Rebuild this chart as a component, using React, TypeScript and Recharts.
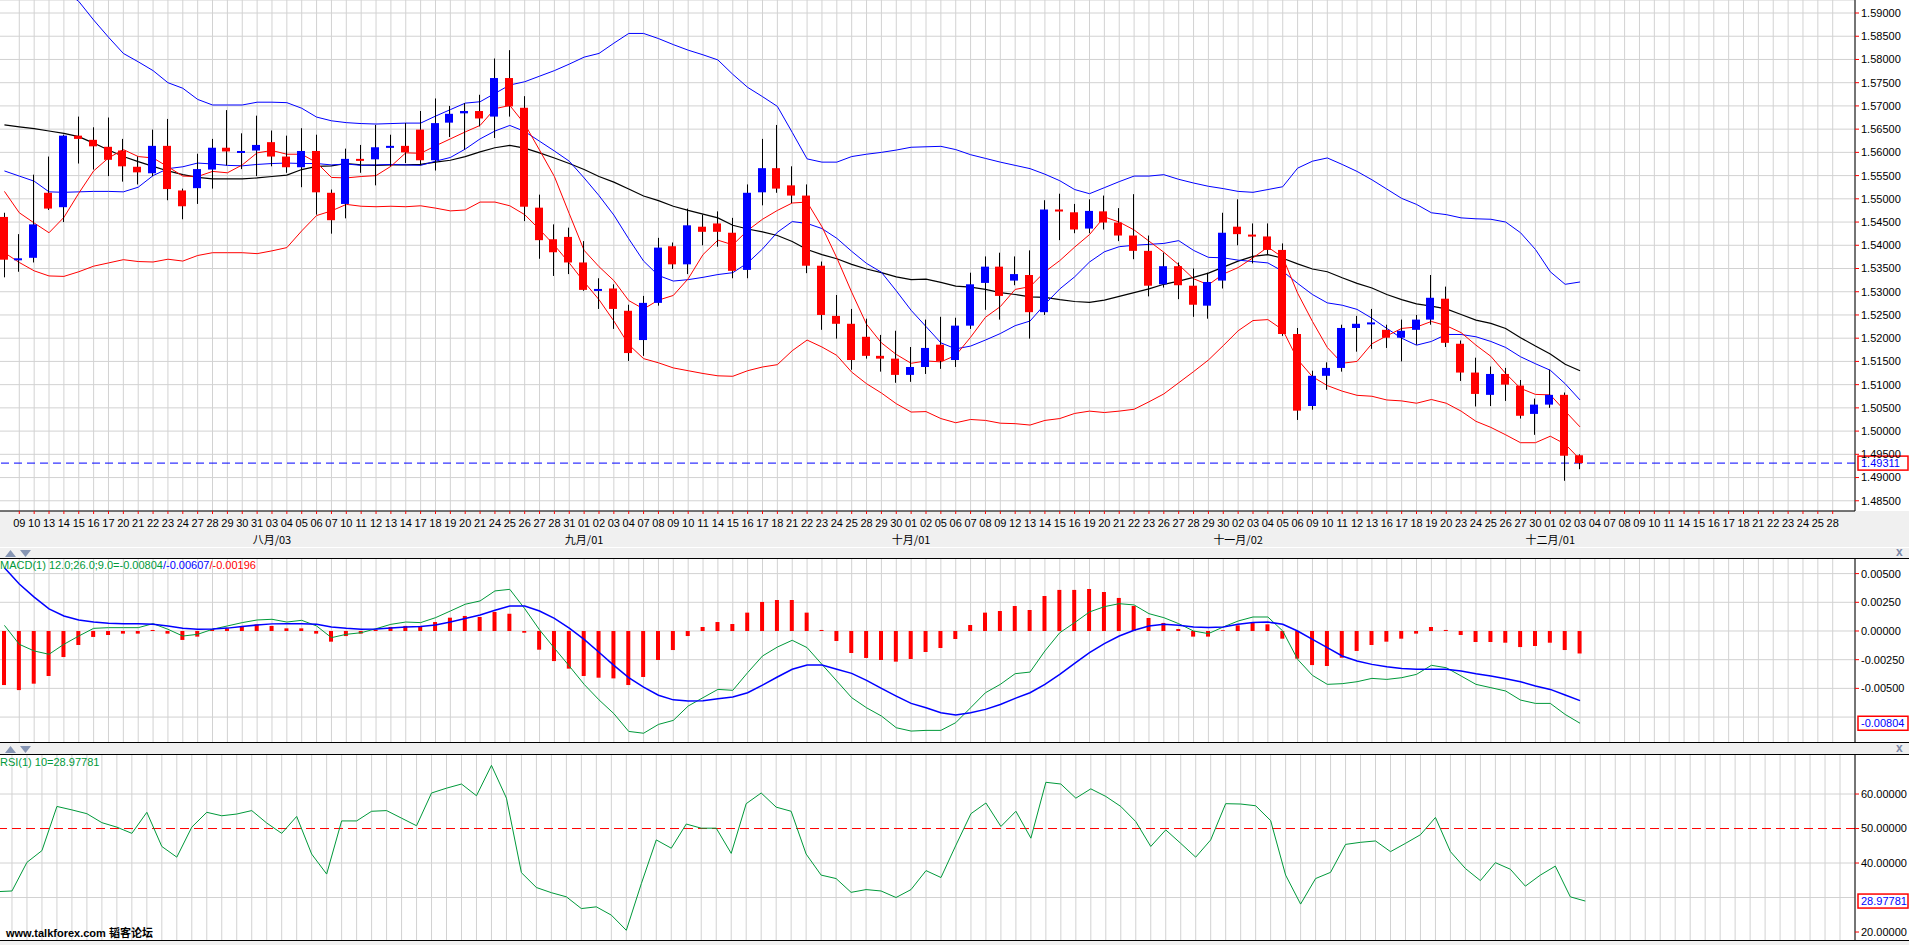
import React from 'react'
import { ComposedChart, Bar, Line, XAxis, YAxis, CartesianGrid, ReferenceLine } from 'recharts'

// trading days shown on the time axis (2009)
const julyDays = ['08', '09', '10', '13', '14', '15', '16', '17', '20', '21', '22', '23', '24', '27', '28', '29', '30', '31']
const augDays = ['03', '04', '05', '06', '07', '10', '11', '12', '13', '14', '17', '18', '19', '20', '21', '24', '25', '26', '27', '28', '31']
const sepDays = ['01', '02', '03', '04', '07', '08', '09', '10', '11', '14', '15', '16', '17', '18', '21', '22', '23', '24', '25', '28', '29', '30']
const octDays = ['01', '02', '05', '06', '07', '08', '09', '12', '13', '14', '15', '16', '19', '20', '21', '22', '23', '26', '27', '28', '29', '30']
const novDays = ['02', '03', '04', '05', '06', '09', '10', '11', '12', '13', '16', '17', '18', '19', '20', '23', '24', '25', '26', '27', '30']
const decDays = ['01', '02', '03', '04', '07', '08', '09', '10', '11', '14', '15', '16', '17', '18', '21', '22', '23', '24', '25', '28']

const monthLabels: Record<string, string> = {
  '08-03': '八月/03',
  '09-01': '九月/01',
  '10-01': '十月/01',
  '11-02': '十一月/02',
  '12-01': '十二月/01',
}

const opens = [
  1.5461, 1.5369, 1.5373, 1.5513, 1.5482, 1.5636, 1.5627, 1.5612, 1.5604, 1.5569,
  1.5555, 1.5614, 1.5518, 1.5523, 1.5563, 1.5610, 1.5602, 1.5604, 1.5622, 1.5591,
  1.5568, 1.5603, 1.5513, 1.5489, 1.5586, 1.5585, 1.5611, 1.5614, 1.5649, 1.5583,
  1.5664, 1.5684, 1.5689, 1.5677, 1.5760, 1.5696, 1.5481, 1.5413, 1.5418, 1.5363,
  1.5304, 1.5307, 1.5259, 1.5196, 1.5276, 1.5398, 1.5359, 1.5440, 1.5447, 1.5427,
  1.5347, 1.5514, 1.5566, 1.5529, 1.5507, 1.5356, 1.5248, 1.5231, 1.5203, 1.5162,
  1.5156, 1.5121, 1.5138, 1.5186, 1.5153, 1.5227, 1.5319, 1.5354, 1.5324, 1.5336,
  1.5256, 1.5477, 1.5471, 1.5436, 1.5473, 1.5449, 1.5421, 1.5388, 1.5316, 1.5355,
  1.5313, 1.5270, 1.5324, 1.5440, 1.5423, 1.5419, 1.5390, 1.5209, 1.5054, 1.5119,
  1.5136, 1.5222, 1.5231, 1.5218, 1.5201, 1.5218, 1.5240, 1.5285, 1.5188, 1.5126,
  1.5078, 1.5123, 1.5098, 1.5037, 1.5057, 1.5078, 1.4948,
]
const highs = [
  1.5470, 1.5424, 1.5552, 1.5591, 1.5638, 1.5677, 1.5654, 1.5675, 1.5629, 1.5591,
  1.5649, 1.5672, 1.5522, 1.5597, 1.5629, 1.5691, 1.5641, 1.5679, 1.5647, 1.5636,
  1.5652, 1.5638, 1.5520, 1.5608, 1.5616, 1.5659, 1.5638, 1.5663, 1.5689, 1.5716,
  1.5700, 1.5706, 1.5724, 1.5802, 1.5820, 1.5721, 1.5509, 1.5445, 1.5438, 1.5409,
  1.5329, 1.5316, 1.5272, 1.5291, 1.5416, 1.5406, 1.5479, 1.5466, 1.5473, 1.5459,
  1.5531, 1.5629, 1.5659, 1.5570, 1.5531, 1.5365, 1.5293, 1.5263, 1.5242, 1.5207,
  1.5216, 1.5181, 1.5240, 1.5246, 1.5244, 1.5341, 1.5376, 1.5384, 1.5376, 1.5389,
  1.5497, 1.5511, 1.5489, 1.5499, 1.5507, 1.5480, 1.5510, 1.5421, 1.5384, 1.5363,
  1.5350, 1.5341, 1.5470, 1.5499, 1.5447, 1.5447, 1.5404, 1.5222, 1.5130, 1.5148,
  1.5229, 1.5248, 1.5263, 1.5229, 1.5240, 1.5250, 1.5336, 1.5311, 1.5195, 1.5158,
  1.5139, 1.5136, 1.5110, 1.5070, 1.5132, 1.5083, 1.4950,
]
const lows = [
  1.5331, 1.5343, 1.5363, 1.5476, 1.5450, 1.5576, 1.5563, 1.5549, 1.5537, 1.5531,
  1.5549, 1.5497, 1.5456, 1.5489, 1.5522, 1.5572, 1.5564, 1.5549, 1.5570, 1.5556,
  1.5525, 1.5466, 1.5425, 1.5458, 1.5556, 1.5529, 1.5570, 1.5577, 1.5572, 1.5561,
  1.5633, 1.5606, 1.5656, 1.5631, 1.5677, 1.5452, 1.5371, 1.5334, 1.5338, 1.5302,
  1.5263, 1.5220, 1.5151, 1.5162, 1.5270, 1.5349, 1.5338, 1.5400, 1.5397, 1.5329,
  1.5329, 1.5486, 1.5513, 1.5491, 1.5340, 1.5218, 1.5199, 1.5132, 1.5156, 1.5128,
  1.5104, 1.5106, 1.5123, 1.5134, 1.5138, 1.5220, 1.5261, 1.5240, 1.5314, 1.5199,
  1.5250, 1.5411, 1.5426, 1.5426, 1.5434, 1.5409, 1.5370, 1.5290, 1.5309, 1.5284,
  1.5246, 1.5242, 1.5307, 1.5400, 1.5361, 1.5380, 1.5205, 1.5024, 1.5046, 1.5089,
  1.5128, 1.5171, 1.5177, 1.5179, 1.5150, 1.5186, 1.5229, 1.5181, 1.5108, 1.5053,
  1.5054, 1.5065, 1.5027, 1.4992, 1.5050, 1.4893, 1.4918,
]
const closes = [
  1.5369, 1.5372, 1.5445, 1.5479, 1.5636, 1.5629, 1.5613, 1.5584, 1.5570, 1.5557,
  1.5614, 1.5521, 1.5484, 1.5564, 1.5610, 1.5602, 1.5603, 1.5616, 1.5591, 1.5568,
  1.5603, 1.5514, 1.5454, 1.5586, 1.5584, 1.5611, 1.5614, 1.5600, 1.5583, 1.5663,
  1.5683, 1.5689, 1.5673, 1.5760, 1.5699, 1.5483, 1.5411, 1.5385, 1.5363, 1.5304,
  1.5306, 1.5263, 1.5168, 1.5276, 1.5395, 1.5359, 1.5443, 1.5429, 1.5429, 1.5345,
  1.5513, 1.5566, 1.5522, 1.5507, 1.5356, 1.5250, 1.5231, 1.5153, 1.5162, 1.5156,
  1.5121, 1.5138, 1.5179, 1.5151, 1.5227, 1.5316, 1.5354, 1.5291, 1.5338, 1.5256,
  1.5477, 1.5473, 1.5434, 1.5474, 1.5449, 1.5421, 1.5388, 1.5313, 1.5355, 1.5314,
  1.5272, 1.5321, 1.5427, 1.5424, 1.5419, 1.5390, 1.5209, 1.5044, 1.5119, 1.5136,
  1.5222, 1.5231, 1.5234, 1.5201, 1.5216, 1.5240, 1.5287, 1.5190, 1.5126, 1.5080,
  1.5123, 1.5100, 1.5033, 1.5057, 1.5078, 1.4947, 1.4931,
]

// moving averages and bollinger bands
const ma5 = [
  1.5516, 1.5470, 1.5448, 1.5427, 1.5460, 1.5512, 1.5560, 1.5588, 1.5606, 1.5591,
  1.5588, 1.5569, 1.5549, 1.5548, 1.5559, 1.5556, 1.5573, 1.5599, 1.5604, 1.5596,
  1.5596, 1.5578, 1.5546, 1.5545, 1.5548, 1.5550, 1.5570, 1.5599, 1.5598, 1.5614,
  1.5629, 1.5644, 1.5658, 1.5694, 1.5701, 1.5661, 1.5605, 1.5548, 1.5468, 1.5389,
  1.5354, 1.5324, 1.5281, 1.5263, 1.5282, 1.5292, 1.5328, 1.5380, 1.5411, 1.5401,
  1.5432, 1.5456, 1.5475, 1.5491, 1.5493, 1.5440, 1.5373, 1.5299, 1.5230, 1.5190,
  1.5165, 1.5146, 1.5151, 1.5149, 1.5163, 1.5202, 1.5245, 1.5268, 1.5305, 1.5311,
  1.5343, 1.5367, 1.5396, 1.5423, 1.5461, 1.5450, 1.5433, 1.5409, 1.5385, 1.5358,
  1.5328, 1.5315, 1.5338, 1.5352, 1.5373, 1.5396, 1.5374, 1.5297, 1.5236, 1.5180,
  1.5146, 1.5150, 1.5188, 1.5205, 1.5221, 1.5224, 1.5236, 1.5227, 1.5212, 1.5185,
  1.5161, 1.5124, 1.5092, 1.5079, 1.5078, 1.5043, 1.5009,
]
const ma10 = [
  1.5560, 1.5549, 1.5538, 1.5515, 1.5514, 1.5515, 1.5516, 1.5516, 1.5515, 1.5525,
  1.5550, 1.5565, 1.5569, 1.5577, 1.5575, 1.5572, 1.5571, 1.5574, 1.5576, 1.5577,
  1.5576, 1.5576, 1.5573, 1.5575, 1.5572, 1.5573, 1.5574, 1.5573, 1.5572, 1.5581,
  1.5589, 1.5607, 1.5629, 1.5646, 1.5658, 1.5645, 1.5624, 1.5603, 1.5581, 1.5545,
  1.5507, 1.5465, 1.5414, 1.5366, 1.5335, 1.5323, 1.5326, 1.5331, 1.5337, 1.5341,
  1.5362, 1.5392, 1.5428, 1.5451, 1.5447, 1.5436, 1.5415, 1.5387, 1.5361, 1.5342,
  1.5302, 1.5260, 1.5225, 1.5190, 1.5177, 1.5183, 1.5196, 1.5210, 1.5227, 1.5237,
  1.5273, 1.5306, 1.5332, 1.5364, 1.5386, 1.5397, 1.5400, 1.5402, 1.5404, 1.5410,
  1.5389, 1.5374, 1.5373, 1.5368, 1.5365, 1.5362, 1.5344, 1.5318, 1.5294, 1.5276,
  1.5271, 1.5262, 1.5243, 1.5221, 1.5200, 1.5185, 1.5193, 1.5208, 1.5208, 1.5203,
  1.5193, 1.5180, 1.5160, 1.5145, 1.5131, 1.5102, 1.5067,
]
const ma20 = [
  1.5659, 1.5655, 1.5651, 1.5646, 1.5641, 1.5634, 1.5620, 1.5605, 1.5591, 1.5580,
  1.5570, 1.5560, 1.5552, 1.5546, 1.5543, 1.5543, 1.5543, 1.5545, 1.5548, 1.5551,
  1.5563, 1.5570, 1.5571, 1.5576, 1.5573, 1.5572, 1.5573, 1.5573, 1.5574, 1.5579,
  1.5583, 1.5591, 1.5601, 1.5610, 1.5615, 1.5609, 1.5599, 1.5588, 1.5576, 1.5563,
  1.5548, 1.5536, 1.5521, 1.5506, 1.5496, 1.5484, 1.5475, 1.5467, 1.5459, 1.5443,
  1.5435, 1.5429, 1.5421, 1.5408, 1.5391, 1.5380, 1.5371, 1.5359, 1.5349, 1.5341,
  1.5332, 1.5326, 1.5327, 1.5320, 1.5312, 1.5310, 1.5305, 1.5298, 1.5294, 1.5289,
  1.5288, 1.5283, 1.5279, 1.5277, 1.5282, 1.5290, 1.5298, 1.5306, 1.5316, 1.5323,
  1.5331, 1.5340, 1.5353, 1.5366, 1.5376, 1.5380, 1.5372, 1.5360, 1.5349, 1.5343,
  1.5330, 1.5318, 1.5308, 1.5294, 1.5283, 1.5274, 1.5269, 1.5263, 1.5251, 1.5239,
  1.5232, 1.5221, 1.5201, 1.5183, 1.5166, 1.5144, 1.5130,
]
const bollUpper = [
  1.5934, 1.5947, 1.5957, 1.5958, 1.5949, 1.5925, 1.5885, 1.5848, 1.5813, 1.5795,
  1.5776, 1.5750, 1.5738, 1.5714, 1.5702, 1.5702, 1.5702, 1.5708, 1.5708, 1.5707,
  1.5695, 1.5676, 1.5668, 1.5664, 1.5662, 1.5661, 1.5662, 1.5663, 1.5663, 1.5678,
  1.5692, 1.5706, 1.5709, 1.5727, 1.5745, 1.5752, 1.5764, 1.5776, 1.5790, 1.5805,
  1.5813, 1.5835, 1.5856, 1.5856, 1.5845, 1.5832, 1.5820, 1.5810, 1.5799, 1.5768,
  1.5740, 1.5720, 1.5699, 1.5643, 1.5586, 1.5579, 1.5579, 1.5591, 1.5596, 1.5600,
  1.5605, 1.5611, 1.5612, 1.5613, 1.5606, 1.5595, 1.5587, 1.5579, 1.5572, 1.5565,
  1.5553, 1.5539, 1.5520, 1.5511, 1.5524, 1.5537, 1.5549, 1.5549, 1.5552, 1.5542,
  1.5534, 1.5527, 1.5522, 1.5516, 1.5514, 1.5520, 1.5526, 1.5566, 1.5581, 1.5588,
  1.5574, 1.5559, 1.5541, 1.5521, 1.5501, 1.5488, 1.5470, 1.5466, 1.5459, 1.5457,
  1.5456, 1.5450, 1.5427, 1.5391, 1.5343, 1.5316, 1.5321,
]
const bollLower = [
  1.5384, 1.5363, 1.5345, 1.5334, 1.5333, 1.5343, 1.5355, 1.5362, 1.5369, 1.5365,
  1.5364, 1.5370, 1.5366, 1.5378, 1.5384, 1.5384, 1.5384, 1.5382, 1.5388, 1.5395,
  1.5431, 1.5464, 1.5474, 1.5488, 1.5484, 1.5483, 1.5484, 1.5483, 1.5485, 1.5480,
  1.5474, 1.5476, 1.5493, 1.5493, 1.5485, 1.5466, 1.5434, 1.5400, 1.5362, 1.5321,
  1.5283, 1.5237, 1.5186, 1.5156, 1.5147, 1.5136, 1.5130, 1.5124, 1.5119, 1.5118,
  1.5130, 1.5138, 1.5143, 1.5173, 1.5196, 1.5181, 1.5163, 1.5127, 1.5102, 1.5082,
  1.5059, 1.5041, 1.5042, 1.5027, 1.5018, 1.5025, 1.5023, 1.5017, 1.5016, 1.5013,
  1.5023, 1.5027, 1.5038, 1.5043, 1.5040, 1.5043, 1.5047, 1.5063, 1.5080, 1.5104,
  1.5128, 1.5153, 1.5184, 1.5216, 1.5238, 1.5240, 1.5218, 1.5154, 1.5117, 1.5098,
  1.5086, 1.5077, 1.5075, 1.5067, 1.5065, 1.5060, 1.5068, 1.5060, 1.5043, 1.5021,
  1.5008, 1.4992, 1.4975, 1.4975, 1.4989, 1.4972, 1.4939,
]

// MACD(12,26,9)
const macdLine = [
  0.00049, -0.00116, -0.00174, -0.00203, -0.00116, -0.00044, 0.00023, 0.00029, 0.00029, 0.00029,
  0.00064, 0.00015, -0.00044, -0.00029, 0.00015, 0.00044, 0.00073, 0.00096, 0.00102, 0.00078,
  0.00093, 0.00044, -0.00058, -0.00029, -0.00015, 0.00020, 0.00058, 0.00078, 0.00073, 0.00116,
  0.00174, 0.00233, 0.00262, 0.00349, 0.00363, 0.00195, 0.00010, -0.00150, -0.00305, -0.00465,
  -0.00600, -0.00720, -0.00875, -0.00891, -0.00814, -0.00779, -0.00654, -0.00581, -0.00509, -0.00517,
  -0.00363, -0.00218, -0.00140, -0.00081, -0.00145, -0.00291, -0.00436, -0.00581, -0.00669, -0.00741,
  -0.00843, -0.00872, -0.00866, -0.00866, -0.00799, -0.00669, -0.00538, -0.00465, -0.00372, -0.00358,
  -0.00174, -0.00015, 0.00073, 0.00166, 0.00212, 0.00238, 0.00227, 0.00151, 0.00116, 0.00064,
  0.00000, -0.00023, 0.00035, 0.00087, 0.00122, 0.00122, 0.00000, -0.00247, -0.00387, -0.00465,
  -0.00459, -0.00442, -0.00413, -0.00422, -0.00407, -0.00378, -0.00299, -0.00320, -0.00392, -0.00465,
  -0.00494, -0.00523, -0.00602, -0.00631, -0.00631, -0.00727, -0.00804,
]
const signalLine = [
  0.00552, 0.00410, 0.00295, 0.00192, 0.00131, 0.00096, 0.00078, 0.00067, 0.00064, 0.00064,
  0.00058, 0.00044, 0.00023, 0.00015, 0.00018, 0.00025, 0.00040, 0.00052, 0.00062, 0.00064,
  0.00064, 0.00058, 0.00035, 0.00023, 0.00015, 0.00018, 0.00025, 0.00035, 0.00040, 0.00052,
  0.00078, 0.00108, 0.00140, 0.00180, 0.00218, 0.00218, 0.00174, 0.00110, 0.00025, -0.00073,
  -0.00185, -0.00300, -0.00407, -0.00490, -0.00560, -0.00600, -0.00610, -0.00608, -0.00590, -0.00576,
  -0.00538, -0.00471, -0.00401, -0.00334, -0.00297, -0.00297, -0.00334, -0.00369, -0.00430, -0.00500,
  -0.00567, -0.00631, -0.00669, -0.00712, -0.00733, -0.00712, -0.00683, -0.00640, -0.00587, -0.00538,
  -0.00465, -0.00378, -0.00282, -0.00189, -0.00110, -0.00044, 0.00006, 0.00044, 0.00058, 0.00049,
  0.00035, 0.00030, 0.00035, 0.00058, 0.00073, 0.00078, 0.00058, 0.00000, -0.00073, -0.00145,
  -0.00218, -0.00262, -0.00291, -0.00311, -0.00326, -0.00334, -0.00334, -0.00334, -0.00349, -0.00372,
  -0.00392, -0.00416, -0.00442, -0.00480, -0.00509, -0.00558, -0.00607,
]
const macdHist = [
  -0.00471, -0.00515, -0.00459, -0.00392, -0.00227, -0.00122, -0.00052, -0.00035, -0.00023, -0.00023,
  0.00009, -0.00023, -0.00078, -0.00049, 0.00015, 0.00023, 0.00044, 0.00058, 0.00044, 0.00023,
  0.00023, -0.00023, -0.00093, -0.00044, -0.00023, 0.00012, 0.00035, 0.00044, 0.00044, 0.00078,
  0.00116, 0.00131, 0.00122, 0.00166, 0.00151, -0.00015, -0.00163, -0.00262, -0.00328, -0.00392,
  -0.00407, -0.00413, -0.00471, -0.00401, -0.00253, -0.00166, -0.00044, 0.00035, 0.00078, 0.00061,
  0.00160, 0.00253, 0.00270, 0.00270, 0.00160, 0.00009, -0.00087, -0.00192, -0.00235, -0.00253,
  -0.00267, -0.00244, -0.00183, -0.00148, -0.00070, 0.00052, 0.00160, 0.00174, 0.00218, 0.00183,
  0.00305, 0.00358, 0.00358, 0.00366, 0.00340, 0.00288, 0.00218, 0.00113, 0.00070, 0.00017,
  -0.00049, -0.00049, 0.00006, 0.00049, 0.00073, 0.00058, -0.00067, -0.00241, -0.00297, -0.00305,
  -0.00233, -0.00174, -0.00122, -0.00093, -0.00067, -0.00023, 0.00035, 0.00009, -0.00035, -0.00096,
  -0.00096, -0.00102, -0.00140, -0.00131, -0.00102, -0.00166, -0.00196,
]

// RSI(10)
const rsi = [
  31.7, 31.9, 40.2, 43.6, 56.4, 55.4, 54.3, 51.7, 50.4, 48.6,
  54.7, 44.8, 41.7, 50.4, 54.7, 53.7, 54.2, 55.2, 51.6, 48.6,
  53.5, 42.6, 36.8, 52.2, 52.2, 55.0, 55.2, 53.0, 50.8, 60.3,
  61.7, 62.9, 59.5, 68.3, 58.8, 37.2, 32.9, 31.4, 30.2, 26.8,
  27.3, 24.9, 20.5, 34.0, 46.7, 44.3, 51.3, 50.1, 50.1, 42.8,
  57.2, 60.3, 56.2, 55.0, 42.6, 36.5, 35.5, 31.5, 32.3, 31.9,
  30.0, 32.3, 37.8, 35.8, 45.2, 54.3, 57.4, 50.6, 55.0, 47.2,
  63.4, 62.9, 58.8, 61.5, 59.3, 56.4, 52.0, 44.8, 49.6, 45.7,
  41.7, 46.7, 57.2, 57.1, 56.6, 52.3, 36.5, 28.1, 35.5, 37.3,
  45.4, 46.0, 46.4, 43.3, 45.7, 48.2, 53.2, 43.3, 38.4, 34.9,
  40.1, 38.2, 33.3, 36.5, 39.1, 30.2, 28.98,
]

const priceTicks = [1.485, 1.49, 1.495, 1.5, 1.505, 1.51, 1.515, 1.52, 1.525, 1.53, 1.535, 1.54, 1.545, 1.55, 1.555, 1.56, 1.565, 1.57, 1.575, 1.58, 1.585, 1.59]
const macdTicks = [-0.005, -0.0025, 0, 0.0025, 0.005]
const macdGrid = [-0.0075, -0.005, -0.0025, 0, 0.0025, 0.005]
const rsiTicks = [20, 40, 50, 60]
const rsiGrid = [20, 30, 40, 60]

const dateKeys = [
  ...julyDays.map(d => '07-' + d),
  ...augDays.map(d => '08-' + d),
  ...sepDays.map(d => '09-' + d),
  ...octDays.map(d => '10-' + d),
  ...novDays.map(d => '11-' + d),
  ...decDays.map(d => '12-' + d),
]

const rows = [...dateKeys, 'pad'].map((key, i) => {
  const has = i < closes.length
  return {
    key,
    range: has ? [lows[i], highs[i]] : null,
    open: has ? opens[i] : null,
    high: has ? highs[i] : null,
    low: has ? lows[i] : null,
    close: has ? closes[i] : null,
    ma5: has ? ma5[i] : null,
    ma10: has ? ma10[i] : null,
    ma20: has ? ma20[i] : null,
    upper: has ? bollUpper[i] : null,
    lower: has ? bollLower[i] : null,
    macd: has ? macdLine[i] : null,
    signal: has ? signalLine[i] : null,
    hist: has ? macdHist[i] : null,
    rsi: has ? rsi[i] : null,
  }
})

const FONT = "'Liberation Sans', Arial, sans-serif"
const CJK = "'Noto Sans CJK SC', 'Liberation Sans', sans-serif"
const GRID = '#d2d2d2'
const GREEN = '#00993a'

const Candle = (props: any) => {
  const { x, y, width, height, payload } = props
  if (!payload || payload.open == null) return null
  const top = Math.min(y, y + height)
  const h = Math.abs(height)
  const k = h / (payload.high - payload.low)
  const n = Math.round(x + width / 2 - 0.5)
  const bodyTop = top + (payload.high - Math.max(payload.open, payload.close)) * k
  const bodyH = Math.max(2, Math.abs(payload.open - payload.close) * k)
  const color = payload.close >= payload.open ? '#0000ff' : '#ff0000'
  return (
    <g>
      <line x1={n + 0.5} x2={n + 0.5} y1={top} y2={top + h} stroke="#000" strokeWidth={1} />
      <rect x={n - 4} y={bodyTop} width={8} height={bodyH} fill={color} />
    </g>
  )
}

const DateTick = (props: any) => {
  const { x, y, payload } = props
  const key = payload.value as string
  const month = monthLabels[key]
  return (
    <g>
      <text x={x} y={y + 11} textAnchor="middle" fontSize={11} fill="#000" fontFamily={FONT}>
        {key.slice(3)}
      </text>
      {month && (
        <text x={x} y={y + 28} textAnchor="middle" fontSize={11} fill="#000" fontFamily={CJK}>
          {month}
        </text>
      )}
    </g>
  )
}

const ValueBox = (props: any) => {
  const { viewBox, boxText } = props
  if (!viewBox) return null
  const bx = viewBox.x + viewBox.width + 3
  const by = viewBox.y
  return (
    <g>
      <rect x={bx} y={by - 7} width={50} height={14} fill="#ffffff" stroke="#ff0000" strokeWidth={1.5} />
      <text x={bx + 3} y={by + 4} fontSize={11} fill="#0000ff" fontFamily={FONT}>{boxText}</text>
    </g>
  )
}

const Arrows = ({ top }: { top: number }) => (
  <svg style={{ position: 'absolute', left: 0, top, width: 40, height: 10 }}>
    <polygon points="5,8 10.5,1 16,8" fill="#8796b4" />
    <polygon points="20,1 31,1 25.5,8" fill="#8796b4" />
  </svg>
)

const hLine = (top: number, color = '#000') => (
  <div style={{ position: 'absolute', left: 0, top, width: 1909, height: 1, background: color }} />
)

const yTick = { fontSize: 11, fill: '#000', fontFamily: FONT }

export default function App() {
  const chartW = 1912
  return (
    <div style={{ position: 'absolute', left: 0, top: 0, width: 1909, height: 945, background: '#f0f0f0', overflow: 'hidden', fontFamily: FONT }}>
      <div style={{ position: 'absolute', left: 0, top: 0, width: 1909, height: 511, background: '#fff' }} />
      <div style={{ position: 'absolute', left: 0, top: 558, width: 1909, height: 185, background: '#fff' }} />
      <div style={{ position: 'absolute', left: 0, top: 754, width: 1909, height: 187, background: '#fff' }} />
      {hLine(547, '#ffffff')}

      {/* price panel */}
      <div style={{ position: 'absolute', left: -3, top: 0 }}>
        <ComposedChart width={chartW} height={547} data={rows} margin={{ top: 0, right: 0, bottom: 0, left: 0 }}>
          <CartesianGrid stroke={GRID} />
          <XAxis dataKey="key" ticks={dateKeys.slice(1)} interval={0} height={36} tick={<DateTick />}
            tickLine={{ stroke: '#ff0000' }} tickSize={3} axisLine={{ stroke: '#000' }} />
          <YAxis orientation="right" width={54} domain={[1.4828, 1.5928]} allowDataOverflow ticks={priceTicks}
            tickFormatter={(v: number) => v.toFixed(5)} tick={yTick} tickLine={{ stroke: '#ff0000' }} tickSize={4}
            axisLine={{ stroke: '#000' }} />
          <Line dataKey="upper" stroke="#0000ff" strokeWidth={1} dot={false} activeDot={false} isAnimationActive={false} />
          <Line dataKey="lower" stroke="#ff0000" strokeWidth={1} dot={false} activeDot={false} isAnimationActive={false} />
          <Line dataKey="ma20" stroke="#000000" strokeWidth={1.2} dot={false} activeDot={false} isAnimationActive={false} />
          <Line dataKey="ma10" stroke="#0000ff" strokeWidth={1} dot={false} activeDot={false} isAnimationActive={false} />
          <Line dataKey="ma5" stroke="#ff0000" strokeWidth={1} dot={false} activeDot={false} isAnimationActive={false} />
          <Bar dataKey="range" barSize={8} shape={(p: any) => <Candle {...p} />} activeBar={false} isAnimationActive={false} zIndex={500} />
          <ReferenceLine y={1.49311} stroke="#0000ff" strokeDasharray="8 5" label={<ValueBox boxText="1.49311" />} />
        </ComposedChart>
      </div>

      <Arrows top={549} />
      <div style={{ position: 'absolute', left: 1896, top: 545, fontSize: 12, fontWeight: 'bold', color: '#7b88a8' }}>x</div>

      {/* MACD panel */}
      <div style={{ position: 'absolute', left: -3, top: 558 }}>
        <ComposedChart width={chartW} height={185} data={rows} margin={{ top: 0, right: 0, bottom: 0, left: 0 }}>
          <CartesianGrid stroke={GRID} horizontalValues={macdGrid} />
          <XAxis dataKey="key" ticks={dateKeys.slice(1)} interval={0} hide />
          <YAxis orientation="right" width={54} domain={[-0.00976, 0.00636]} allowDataOverflow ticks={macdTicks}
            tickFormatter={(v: number) => v.toFixed(5)} tick={yTick} tickLine={{ stroke: '#ff0000' }} tickSize={4}
            axisLine={{ stroke: '#000' }} />
          <Bar dataKey="hist" fill="#ff0000" barSize={4} activeBar={false} isAnimationActive={false} />
          <Line dataKey="macd" stroke={GREEN} strokeWidth={1} dot={false} activeDot={false} isAnimationActive={false} />
          <Line dataKey="signal" stroke="#0000ff" strokeWidth={1.5} dot={false} activeDot={false} isAnimationActive={false} />
          <ReferenceLine y={-0.00804} stroke="none" label={<ValueBox boxText="-0.00804" />} />
        </ComposedChart>
      </div>
      {hLine(558)}
      {hLine(742)}
      <div style={{ position: 'absolute', left: 0, top: 558, fontSize: 11, lineHeight: '14px', whiteSpace: 'nowrap' }}>
        <span style={{ color: GREEN }}>MACD(1) 12.0;26.0;9.0=-0.00804</span>
        <span style={{ color: '#0000ff' }}>/-0.00607</span>
        <span style={{ color: '#ff0000' }}>/-0.00196</span>
      </div>

      <Arrows top={745} />
      <div style={{ position: 'absolute', left: 1896, top: 741, fontSize: 12, fontWeight: 'bold', color: '#7b88a8' }}>x</div>

      {/* RSI panel */}
      <div style={{ position: 'absolute', left: -3, top: 754 }}>
        <ComposedChart width={chartW} height={187} data={rows} margin={{ top: 0, right: 0, bottom: 0, left: 0 }}>
          <CartesianGrid stroke={GRID} horizontalValues={rsiGrid} />
          <XAxis dataKey="key" ticks={dateKeys.slice(1)} interval={0} hide />
          <YAxis orientation="right" width={54} domain={[17.4, 71.6]} allowDataOverflow ticks={rsiTicks}
            tickFormatter={(v: number) => v.toFixed(5)} tick={yTick} tickLine={{ stroke: '#ff0000' }} tickSize={4}
            axisLine={{ stroke: '#000' }} />
          <ReferenceLine y={50} stroke="#ff0000" strokeDasharray="9 5" />
          <Line dataKey="rsi" stroke={GREEN} strokeWidth={1} dot={false} activeDot={false} isAnimationActive={false} />
          <ReferenceLine y={28.97781} stroke="none" label={<ValueBox boxText="28.97781" />} />
        </ComposedChart>
      </div>
      {hLine(754)}
      {hLine(940)}
      <div style={{ position: 'absolute', left: 0, top: 755, fontSize: 11, lineHeight: '14px', color: GREEN, whiteSpace: 'nowrap' }}>
        RSI(1) 10=28.97781
      </div>
      <div style={{ position: 'absolute', left: 6, top: 926, fontSize: 11, lineHeight: '14px', fontWeight: 'bold', color: '#000', whiteSpace: 'nowrap', fontFamily: "'Liberation Sans', 'Noto Sans CJK SC', sans-serif" }}>
        www.talkforex.com 韬客论坛
      </div>
    </div>
  )
}
